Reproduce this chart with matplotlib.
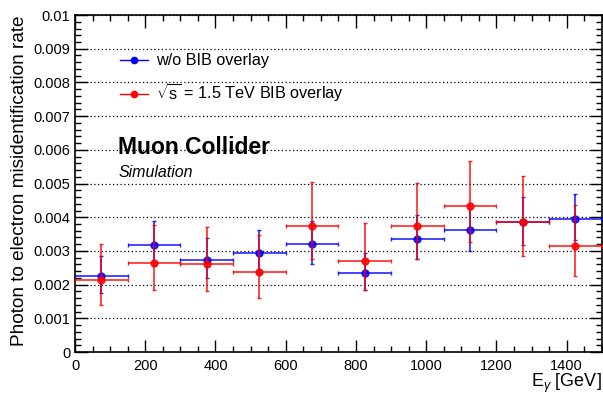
import numpy as np
import matplotlib.pyplot as plt
from matplotlib.lines import Line2D
from matplotlib.ticker import MultipleLocator

plt.rcParams['font.family'] = ['Liberation Sans', 'DejaVu Sans']
plt.rcParams['mathtext.fontset'] = 'custom'
plt.rcParams['mathtext.rm'] = 'Liberation Sans'
plt.rcParams['mathtext.it'] = 'Liberation Sans:italic'

# photon energy bins [GeV]
bin_edges = [0, 150, 300, 450, 600, 750, 900, 1050, 1200, 1350, 1500]

# w/o BIB overlay
rate_nobib = [0.00225, 0.00319, 0.00273, 0.00295, 0.00320, 0.00234, 0.00336, 0.00363, 0.00385, 0.00394]
up_nobib = [0.00061, 0.00070, 0.00065, 0.00067, 0.00069, 0.00060, 0.00071, 0.00062, 0.00075, 0.00076]
dn_nobib = [0.00049, 0.00060, 0.00054, 0.00060, 0.00058, 0.00049, 0.00061, 0.00062, 0.00066, 0.00063]

# sqrt(s) = 1.5 TeV BIB overlay
rate_bib = [0.00215, 0.00265, 0.00261, 0.00238, 0.00375, 0.00269, 0.00374, 0.00432, 0.00387, 0.00315]
up_bib = [0.00105, 0.00112, 0.00111, 0.00108, 0.00129, 0.00115, 0.00127, 0.00136, 0.00134, 0.00120]
dn_bib = [0.00074, 0.00082, 0.00081, 0.00078, 0.00098, 0.00084, 0.00099, 0.00105, 0.00102, 0.00089]

edges = np.array(bin_edges, dtype=float)
centers = 0.5 * (edges[1:] + edges[:-1])
half = 0.5 * np.diff(edges)

fig = plt.figure(figsize=(6.03, 3.96), dpi=100)
ax = fig.add_axes([0.1244, 0.111, 0.8736, 0.851])

ax.errorbar(centers, rate_nobib, xerr=half, yerr=[dn_nobib, up_nobib], fmt='o', color='#0000ff',
            ms=5, lw=1.2, capsize=1.5, capthick=1.0, alpha=0.85, zorder=3)
ax.errorbar(centers, rate_bib, xerr=half, yerr=[dn_bib, up_bib], fmt='o', color='#ff0000',
            ms=5, lw=1.2, capsize=1.5, capthick=1.0, alpha=0.85, zorder=4)

ax.set_xlim(0, 1500)
ax.set_ylim(0, 0.01)
ax.xaxis.set_major_locator(MultipleLocator(200))
ax.xaxis.set_minor_locator(MultipleLocator(50))
ax.yaxis.set_major_locator(MultipleLocator(0.001))
ax.yaxis.set_minor_locator(MultipleLocator(0.0002))
ax.set_yticks(np.arange(0, 0.0101, 0.001))
ax.set_yticklabels(['0'] + ['%g' % v for v in np.arange(0.001, 0.0101, 0.001)])
ax.tick_params(which='both', direction='in', top=True, right=True, labelsize=10.5)
ax.tick_params(axis='x', pad=5)
ax.tick_params(which='major', length=9, width=1)
ax.tick_params(which='minor', length=4.5, width=1)
for s in ax.spines.values():
    s.set_linewidth(1.2)

ax.grid(axis='y', which='major', linestyle=(0, (1, 2)), color='black', lw=0.9)
ax.set_axisbelow(True)

ax.set_ylabel('Photon to electron misidentification rate', fontsize=13.7, loc='top')
ax.set_xlabel(r'E$_\gamma$ [GeV]', fontsize=13, loc='right')
ax.xaxis.set_label_coords(1.0, -0.058)

ax.text(0.082, 0.607, 'Muon Collider', transform=ax.transAxes, fontsize=16.5, fontweight='bold', va='center')
ax.text(0.082, 0.533, 'Simulation', transform=ax.transAxes, fontsize=11.5, style='italic', va='center')

handles = [Line2D([], [], color='#0000ff', marker='o', ms=4.5, lw=1),
           Line2D([], [], color='#ff0000', marker='o', ms=4.5, lw=1)]
labels = ['w/o BIB overlay', r'$\sqrt{\mathrm{s}}$ = 1.5 TeV BIB overlay']
ax.legend(handles, labels, loc='upper left', bbox_to_anchor=(0.057, 0.93), frameon=False,
          fontsize=11.7, handlelength=1.75, labelspacing=0.8, handletextpad=0.5)

fig.savefig('out.png', dpi=100)
